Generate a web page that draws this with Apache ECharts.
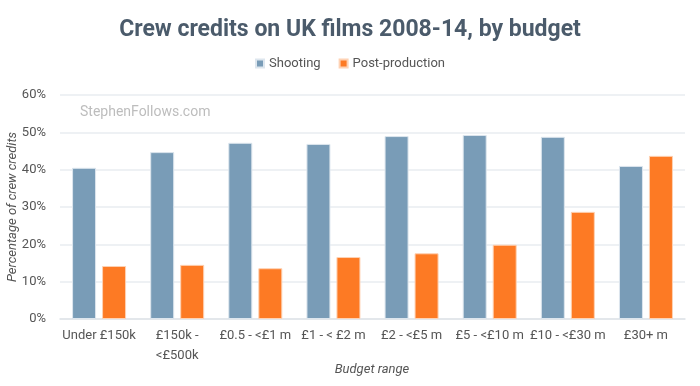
<!DOCTYPE html>
<html><head><meta charset="utf-8">
<script src="https://cdn.jsdelivr.net/npm/echarts@6/dist/echarts.min.js"></script>
<style>html,body{margin:0;padding:0;background:#fff}#c{width:700px;height:386px}</style>
</head><body><div id="c"></div>
<script>
const categories = ['Under £150k', '£150k -\n<£500k', '£0.5 - <£1 m', '£1 - < £2 m', '£2 - <£5 m', '£5 - <£10 m', '£10 - <£30 m', '£30+ m'];
const shooting = [40.5, 44.7, 47.2, 46.9, 49.0, 49.3, 48.8, 41.0];
const postProduction = [14.2, 14.5, 13.6, 16.6, 17.6, 19.9, 28.7, 43.7];
const yTicks = [0, 10, 20, 30, 40, 50, 60];
const xAxisName = 'Budget range';
const yAxisName = 'Percentage of crew credits';

const chart = echarts.init(document.getElementById('c'), null, {renderer: 'canvas'});
const F = 'Roboto, "Noto Sans", sans-serif';
const nameStyle = {fontFamily: F, fontStyle: 'italic', fontSize: 13, fill: '#555', align: 'center', verticalAlign: 'middle'};
chart.setOption({
  animation: false,
  title: {
    text: 'Crew credits on UK films 2008-14, by budget',
    left: 'center', top: 14,
    textStyle: {fontFamily: F, fontWeight: 'bold', fontSize: 23, color: '#4b5b6b'}
  },
  legend: {
    top: 52, left: 'center', itemWidth: 8, itemHeight: 8, itemGap: 18,
    icon: 'rect',
    textStyle: {fontFamily: F, fontSize: 13, color: '#555'},
    data: ['Shooting', 'Post-production']
  },
  graphic: [
    {type: 'text', left: 80, top: 105,
     style: {text: 'StephenFollows.com', fontFamily: F, fontSize: 14, fill: '#bdbdbd'}},
    {type: 'text', x: 372, y: 370, style: Object.assign({text: xAxisName}, nameStyle)},
    {type: 'text', x: 13, y: 207, rotation: Math.PI / 2, style: Object.assign({text: yAxisName}, nameStyle)}
  ],
  grid: {left: 60, right: 15, top: 95, bottom: 67, containLabel: false, outerBoundsMode: 'none'},
  xAxis: {
    type: 'category', data: categories,
    axisTick: {show: false},
    axisLine: {lineStyle: {color: '#dfe3e8', width: 1.5}},
    axisLabel: {fontFamily: F, fontSize: 13, color: '#555', margin: 7, interval: 0, lineHeight: 20}
  },
  yAxis: {
    type: 'value', min: yTicks[0], max: yTicks[yTicks.length - 1], interval: 10,
    axisLine: {show: false}, axisTick: {show: false},
    axisLabel: {fontFamily: F, fontSize: 13, color: '#555', formatter: '{value}%', margin: 14},
    splitLine: {lineStyle: {color: '#e8ecf0', width: 1.5}}
  },
  series: [
    {name: 'Shooting', type: 'bar', data: shooting, barWidth: 24, barGap: '25%',
     itemStyle: {color: '#799cb7', borderColor: '#dde6ee', borderWidth: 1}},
    {name: 'Post-production', type: 'bar', data: postProduction, barWidth: 24,
     itemStyle: {color: '#fd7a24', borderColor: '#fed2b4', borderWidth: 1}}
  ]
});
</script></body></html>
